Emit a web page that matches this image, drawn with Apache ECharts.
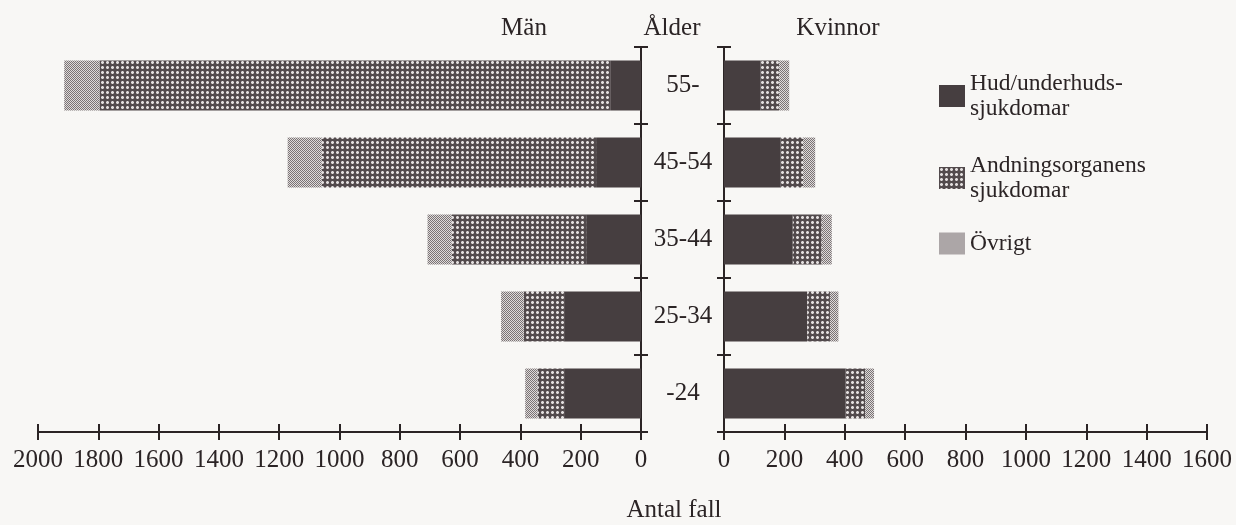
<!DOCTYPE html>
<html>
<head>
<meta charset="utf-8">
<script src="https://cdn.jsdelivr.net/npm/echarts@6/dist/echarts.min.js"></script>
<style>
  html, body { margin: 0; padding: 0; background: #f8f7f5; }
  #chart { width: 1236px; height: 525px; }
</style>
</head>
<body>
<div id="chart"></div>
<script>
// Age groups, top to bottom
const ageGroups = ['55-', '45-54', '35-44', '25-34', '-24'];

// Diagnosis groups (legend names)
const nameHud = 'Hud/underhuds-\nsjukdomar';
const nameAndning = 'Andningsorganens\nsjukdomar';
const nameOvrigt = 'Övrigt';

// Number of cases, men
const menHud = [100, 149, 182, 255, 255];
const menAndning = [1696, 910, 446, 134, 88];
const menOvrigt = [117, 113, 80, 75, 41];

// Number of cases, women
const womenHud = [120, 188, 228, 276, 403];
const womenAndning = [63, 74, 96, 75, 65];
const womenOvrigt = [33, 40, 33, 28, 29];

// Axis ranges
const menMax = 2000;
const womenMax = 1600;
const tickStep = 200;

const FONT = '"Liberation Serif", "DejaVu Serif", serif';
const INK = '#2b2425';
const SIZE = 25;

// Screen-print style fills
function makePattern(size, draw) {
  const c = document.createElement('canvas');
  c.width = size; c.height = size;
  const ctx = c.getContext('2d');
  draw(ctx, size);
  return { image: c, repeat: 'repeat' };
}
const fillHud = '#463e40';
const fillAndning = makePattern(5, (ctx, s) => {
  ctx.fillStyle = '#524a4c';
  ctx.fillRect(0, 0, s, s);
  ctx.fillStyle = '#9d9697';
  ctx.fillRect(1, 1, 3, 3);
  ctx.fillStyle = '#e2dede';
  ctx.fillRect(2, 1, 1, 3);
  ctx.fillRect(1, 2, 3, 1);
});
const fillOvrigt = makePattern(2, (ctx) => {
  ctx.fillStyle = '#dedada';
  ctx.fillRect(0, 0, 2, 2);
  ctx.fillStyle = '#7a7374';
  ctx.fillRect(0, 0, 1, 1);
  ctx.fillRect(1, 1, 1, 1);
});

const textStyle = { fontFamily: FONT, fontSize: SIZE, color: INK };
const axisLine = { show: true, lineStyle: { color: INK, width: 2 } };
const tickStyle = { color: INK, width: 2 };

function valueAxis(grid, max, inverse, withLabels) {
  return {
    type: 'value', gridIndex: grid, min: 0, max: max, interval: tickStep,
    inverse: inverse, position: 'bottom',
    axisLine: withLabels ? axisLine : { show: false },
    axisTick: { show: true, inside: !withLabels, length: 8, lineStyle: tickStyle },
    axisLabel: withLabels
      ? Object.assign({ show: true, margin: 16, formatter: (v) => String(v) }, textStyle)
      : { show: false },
    splitLine: { show: false }
  };
}
function categoryAxis(grid, pos, primary, labels) {
  return {
    type: 'category', gridIndex: grid, data: ageGroups, inverse: true, position: pos,
    axisLine: primary ? axisLine : { show: false },
    axisTick: { show: true, inside: !primary, length: 7, interval: 0, lineStyle: tickStyle },
    axisLabel: labels ? Object.assign({ show: true, margin: 41, align: 'center' }, textStyle) : { show: false },
    splitLine: { show: false }
  };
}

function bar(name, data, fill, xi, yi, stack) {
  return {
    name: name, type: 'bar', stack: stack, data: data,
    xAxisIndex: xi, yAxisIndex: yi, barWidth: 50,
    itemStyle: { color: fill }, emphasis: { disabled: true }
  };
}

function legendFor(name, top) {
  return {
    data: [name], left: 934, top: top, orient: 'vertical', icon: 'rect',
    itemWidth: 26, itemHeight: 22, itemGap: 0,
    textStyle: { fontFamily: FONT, fontSize: 23.5, lineHeight: 25, color: INK }
  };
}

function label(text, x, y) {
  return {
    type: 'text', x: x, y: y,
    style: { text: text, align: 'center', verticalAlign: 'middle', font: SIZE + 'px ' + FONT, fill: INK }
  };
}

const chart = echarts.init(document.getElementById('chart'), null, { renderer: 'canvas' });
chart.setOption({
  backgroundColor: '#f8f7f5',
  animation: false,
  grid: [
    { left: 38, top: 47, width: 603, height: 385 },
    { left: 724, top: 47, width: 483, height: 385 }
  ],
  xAxis: [
    valueAxis(0, menMax, true, true),
    valueAxis(0, menMax, true, false),
    valueAxis(1, womenMax, false, true),
    valueAxis(1, womenMax, false, false)
  ],
  yAxis: [
    categoryAxis(0, 'right', true, false),
    categoryAxis(0, 'right', false, false),
    categoryAxis(1, 'left', true, true),
    categoryAxis(1, 'left', false, false)
  ],
  legend: [
    legendFor(nameHud, 66),
    legendFor(nameAndning, 148),
    legendFor(nameOvrigt, 226)
  ],
  series: [
    bar(nameHud, menHud, fillHud, 0, 0, 'men'),
    bar(nameAndning, menAndning, fillAndning, 0, 0, 'men'),
    bar(nameOvrigt, menOvrigt, fillOvrigt, 0, 0, 'men'),
    bar(nameHud, womenHud, fillHud, 2, 2, 'women'),
    bar(nameAndning, womenAndning, fillAndning, 2, 2, 'women'),
    bar(nameOvrigt, womenOvrigt, fillOvrigt, 2, 2, 'women')
  ],
  graphic: [
    label('Män', 524, 28),
    label('Ålder', 672, 28),
    label('Kvinnor', 838, 28),
    label('Antal fall', 674, 510)
  ]
});
</script>
</body>
</html>
